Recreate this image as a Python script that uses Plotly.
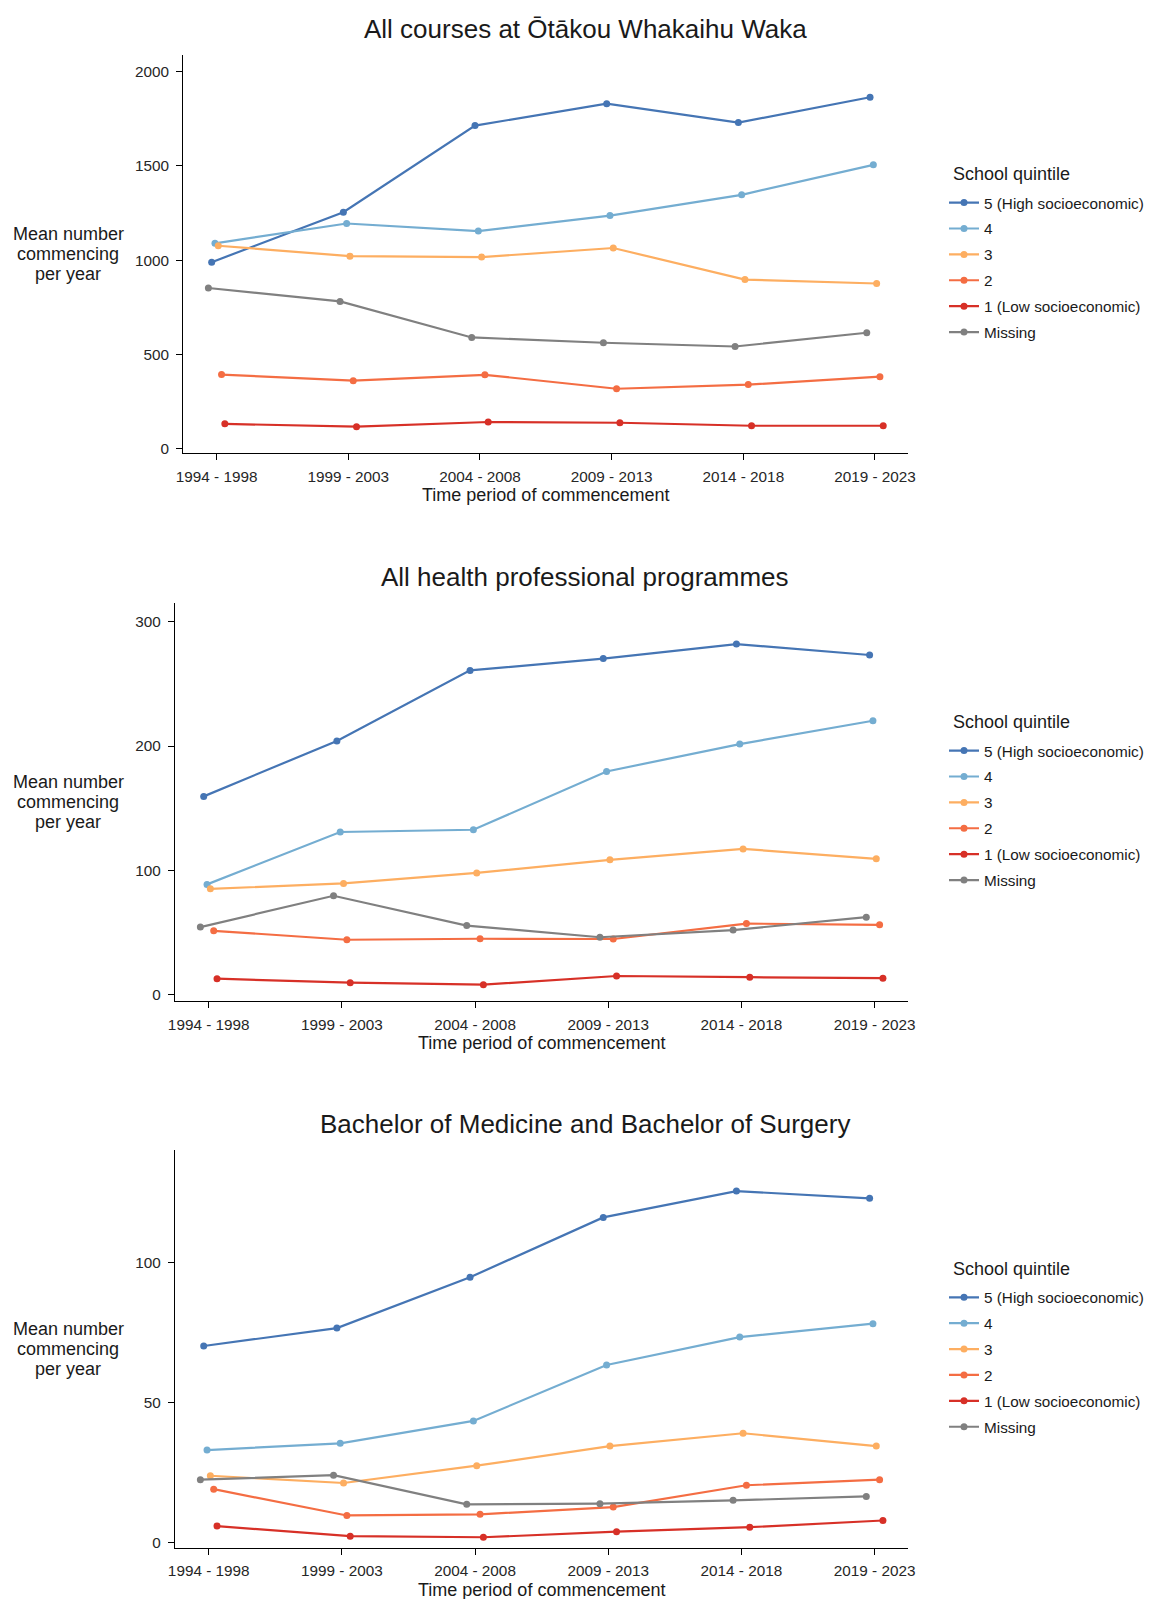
import plotly.graph_objects as go

# ---- data -----------------------------------------------------------------
periods = ["1994 - 1998", "1999 - 2003", "2004 - 2008",
           "2009 - 2013", "2014 - 2018", "2019 - 2023"]

quintiles = ["5 (High socioeconomic)", "4", "3", "2",
             "1 (Low socioeconomic)", "Missing"]

panel_titles = ["All courses at Ōtākou Whakaihu Waka",
                "All health professional programmes",
                "Bachelor of Medicine and Bachelor of Surgery"]

# All courses
all_q5 = [990, 1255, 1714, 1830, 1730, 1864]
all_q4 = [1090, 1195, 1155, 1237, 1347, 1506]
all_q3 = [1077, 1022, 1017, 1065, 898, 877]
all_q2 = [394, 362, 393, 319, 341, 383]
all_q1 = [133, 118, 143, 139, 123, 123]
all_miss = [853, 782, 591, 563, 543, 616]

# All health professional programmes
hp_q5 = [159.5, 204.2, 261.0, 270.5, 282.2, 273.4]
hp_q4 = [88.6, 130.8, 132.6, 179.6, 201.6, 220.4]
hp_q3 = [85.0, 89.4, 97.8, 108.4, 117.2, 109.2]
hp_q2 = [51.2, 44.0, 44.8, 44.6, 57.0, 56.0]
hp_q1 = [12.6, 9.4, 7.8, 14.8, 13.8, 13.0]
hp_miss = [54.2, 79.4, 55.4, 46.0, 51.8, 62.2]

# MB ChB
mb_q5 = [70.2, 76.6, 94.8, 116.2, 125.6, 123.0]
mb_q4 = [33.0, 35.4, 43.4, 63.4, 73.4, 78.2]
mb_q3 = [23.8, 21.2, 27.4, 34.4, 39.0, 34.4]
mb_q2 = [19.0, 9.6, 10.0, 12.6, 20.4, 22.4]
mb_q1 = [5.8, 2.2, 1.8, 3.8, 5.4, 7.8]
mb_miss = [22.4, 24.0, 13.6, 13.8, 15.0, 16.4]

panel_data = [
    [all_q5, all_q4, all_q3, all_q2, all_q1, all_miss],
    [hp_q5, hp_q4, hp_q3, hp_q2, hp_q1, hp_miss],
    [mb_q5, mb_q4, mb_q3, mb_q2, mb_q1, mb_miss],
]

y_ticks = [[0, 500, 1000, 1500, 2000], [0, 100, 200, 300], [0, 50, 100]]

# ---- styling --------------------------------------------------------------
colors = ["#4575b4", "#74add1", "#fdae61", "#f46d43", "#d73027", "#808080"]
# dodge slot per quintile (Missing sits leftmost, then 5..1)
dodge_slot = [1, 2, 3, 4, 5, 0]
dodge_step = 0.025

W, H = 1149, 1599
FONT = "Liberation Sans, Arial, sans-serif"


def px_x(x):
    return x / W


def px_y(y):
    return 1 - y / H


# plot-area boxes in pixels: left, right, top, bottom
boxes = [(183.3, 908.3, 55, 453.3),
         (175, 908.3, 603, 1001.3),
         (175, 908.3, 1150, 1547.7)]
y_ranges = [[-23, 2088], [-5.6, 315.3], [-1.93, 140.3]]
x_range = [0.747, 6.253]

fig = go.Figure()

for p, series in enumerate(panel_data):
    ax = "" if p == 0 else str(p + 1)
    leg = "legend" if p == 0 else f"legend{p + 1}"
    for k, (name, vals) in enumerate(zip(quintiles, series)):
        off = (dodge_slot[k] - 2.5) * dodge_step
        xs = [i + 1 + off for i in range(len(periods))]
        fig.add_trace(go.Scatter(
            x=xs, y=vals, name=name, mode="lines+markers",
            line=dict(color=colors[k], width=2.2),
            marker=dict(color=colors[k], size=7),
            xaxis="x" + ax, yaxis="y" + ax,
            legend=leg, legendgroup=f"p{p}_{k}",
        ))

layout = dict(
    width=W, height=H, autosize=False,
    margin=dict(l=0, r=0, t=0, b=0, pad=0, autoexpand=False),
    paper_bgcolor="white", plot_bgcolor="white",
    font=dict(family=FONT, color="#1a1a1a"),
    showlegend=True,
)

annotations = []
for p, (l, r, t, b) in enumerate(boxes):
    ax = "" if p == 0 else str(p + 1)
    layout["xaxis" + ax] = dict(
        domain=[px_x(l), px_x(r)], range=x_range,
        tickmode="array", tickvals=list(range(1, len(periods) + 1)),
        ticktext=periods, showline=True, linecolor="black", linewidth=1.3,
        ticks="outside", ticklen=6, tickcolor="black", tickwidth=1,
        ticklabelstandoff=3,
        showgrid=False, zeroline=False, anchor="y" + ax, automargin=False,
        tickfont=dict(size=15.3, color="#262626"),
    )
    layout["yaxis" + ax] = dict(
        domain=[px_y(b), px_y(t)], range=y_ranges[p],
        tickmode="array", tickvals=y_ticks[p],
        showline=True, linecolor="black", linewidth=1.3,
        ticks="outside", ticklen=6, tickcolor="black", tickwidth=1,
        ticklabelstandoff=4,
        showgrid=False, zeroline=False, anchor="x" + ax, automargin=False,
        tickfont=dict(size=15.3, color="#262626"),
    )
    mid = (t + b) / 2
    leg = "legend" if p == 0 else f"legend{p + 1}"
    layout[leg] = dict(
        x=px_x(944), xanchor="left", y=px_y(mid - 68), yanchor="top",
        font=dict(size=15.3, color="#1a1a1a"),
        tracegroupgap=3, bgcolor="rgba(0,0,0,0)", borderwidth=0,
    )
    # legend heading
    annotations.append(dict(
        text="School quintile", x=px_x(951), y=px_y(mid - 80),
        xref="paper", yref="paper", showarrow=False,
        xanchor="left", yanchor="middle", font=dict(size=18, color="#1a1a1a"),
    ))
    # panel title
    annotations.append(dict(
        text=panel_titles[p], x=px_x(585), y=px_y(t - 26),
        xref="paper", yref="paper", showarrow=False,
        xanchor="center", yanchor="middle", font=dict(size=26, color="#1a1a1a"),
    ))
    # horizontal y-axis title
    for j, line in enumerate(["Mean number", "commencing", "per year"]):
        annotations.append(dict(
            text=line, x=px_x(68), y=px_y(mid + (j - 1) * 19.7),
            xref="paper", yref="paper", showarrow=False,
            xanchor="center", yanchor="middle", font=dict(size=18, color="#1a1a1a"),
        ))
    # x-axis title
    annotations.append(dict(
        text="Time period of commencement", x=px_x((l + r) / 2), y=px_y(b + 42),
        xref="paper", yref="paper", showarrow=False,
        xanchor="center", yanchor="middle", font=dict(size=18, color="#1a1a1a"),
    ))

layout["annotations"] = annotations
fig.update_layout(**layout)

fig.write_html("out.html")
